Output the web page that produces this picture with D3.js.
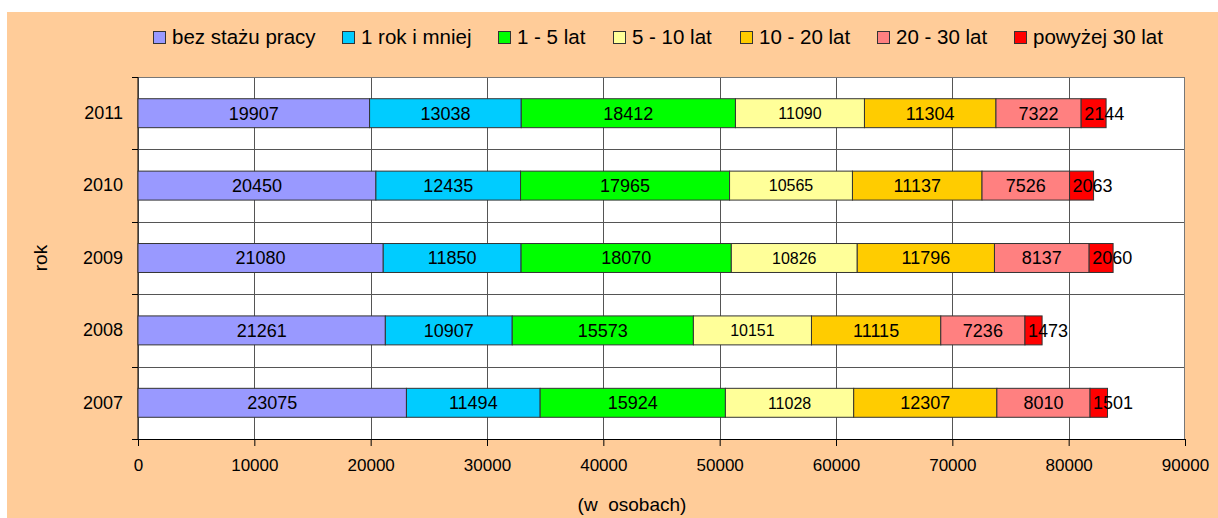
<!DOCTYPE html>
<html><head><meta charset="utf-8">
<script src="https://cdn.jsdelivr.net/npm/d3@7"></script>
<style>
html,body{margin:0;padding:0;background:#fff;}
svg{display:block;font-family:"Liberation Sans",Arial,sans-serif;}
</style></head>
<body><svg id="chart" width="1218" height="518"></svg>
<script>
const years = ["2011","2010","2009","2008","2007"];
const seriesNames = ["bez stażu pracy","1 rok i mniej","1 - 5 lat","5 - 10 lat","10 - 20 lat","20 - 30 lat","powyżej 30 lat"];
const bezStazu   = [19907, 20450, 21080, 21261, 23075];
const rokIMniej  = [13038, 12435, 11850, 10907, 11494];
const lat1_5     = [18412, 17965, 18070, 15573, 15924];
const lat5_10    = [11090, 10565, 10826, 10151, 11028];
const lat10_20   = [11304, 11137, 11796, 11115, 12307];
const lat20_30   = [7322, 7526, 8137, 7236, 8010];
const powyzej30  = [2144, 2063, 2060, 1473, 1501];
const xTicks = [0,10000,20000,30000,40000,50000,60000,70000,80000,90000];
const colors = ["#9999FF","#00CCFF","#00FF00","#FFFF99","#FFCC00","#FF8080","#FF0000"];

const seriesValues = [bezStazu, rokIMniej, lat1_5, lat5_10, lat10_20, lat20_30, powyzej30];
const rows = years.map((y,i)=>{ const o={year:y}; seriesNames.forEach((s,k)=>o[s]=seriesValues[k][i]); return o; });

const svg = d3.select("#chart");
const W=1218,H=518;
const plot = {l:138, r:1185, t:77, b:439};

svg.append("rect").attr("x",0).attr("y",0).attr("width",W).attr("height",H).attr("fill","#fff");
svg.append("rect").attr("x",7).attr("y",12).attr("width",W-7).attr("height",H-12).attr("fill","#FFCC99");
svg.append("rect").attr("x",plot.l).attr("y",plot.t).attr("width",plot.r-plot.l).attr("height",plot.b-plot.t).attr("fill","#fff");

const x = d3.scaleLinear().domain([0,90000]).range([plot.l,plot.r]);
const y = d3.scaleBand().domain(years).range([plot.t,plot.b]).paddingInner(0.6).paddingOuter(0.3);

const gridColor="#555";
svg.append("g").selectAll("line").data(xTicks.slice(1,-1)).join("line")
  .attr("x1",d=>Math.round(x(d))+0.5).attr("x2",d=>Math.round(x(d))+0.5)
  .attr("y1",plot.t).attr("y2",plot.b).attr("stroke",gridColor).attr("stroke-width",1);
const bounds = years.map(yy=>y(yy)-y.step()*y.paddingInner()/2).concat([plot.b]);
svg.append("g").selectAll("line").data(bounds).join("line")
  .attr("x1",plot.l).attr("x2",plot.r)
  .attr("y1",d=>Math.round(d)+0.5).attr("y2",d=>Math.round(d)+0.5)
  .attr("stroke",gridColor).attr("stroke-width",1);
svg.append("g").selectAll("line").data(bounds).join("line")
  .attr("x1",plot.l-6).attr("x2",plot.l)
  .attr("y1",d=>Math.round(d)+0.5).attr("y2",d=>Math.round(d)+0.5)
  .attr("stroke","#000");
svg.append("rect").attr("x",plot.l+0.5).attr("y",plot.t+0.5).attr("width",plot.r-plot.l-1).attr("height",plot.b-plot.t)
  .attr("fill","none").attr("stroke","#777");

const xAxis = d3.axisBottom(x).tickValues(xTicks).tickSize(7).tickPadding(13).tickFormat(d3.format("d"));
const gx = svg.append("g").attr("transform",`translate(0,${plot.b})`).call(xAxis);
gx.select(".domain").attr("stroke","#000");
gx.selectAll(".tick line").attr("stroke","#000");
gx.selectAll("text").attr("font-size",17).attr("fill","#000").attr("font-family","Liberation Sans, Arial, sans-serif");

const yAxis = d3.axisLeft(y).tickSize(0).tickPadding(15);
const gy = svg.append("g").attr("transform",`translate(${plot.l},0)`).call(yAxis);
gy.select(".domain").attr("stroke","#000").attr("d",`M0,${plot.t}V${plot.b}`);
gy.selectAll("text").attr("font-size",18).attr("fill","#000").attr("font-family","Liberation Sans, Arial, sans-serif");

const stack = d3.stack().keys(seriesNames)(rows);
const layers = svg.append("g").selectAll("g").data(stack).join("g").attr("fill",(d,i)=>colors[i]);
layers.selectAll("rect").data(d=>d).join("rect")
  .attr("x",d=>x(d[0])).attr("width",d=>x(d[1])-x(d[0]))
  .attr("y",d=>y(d.data.year)).attr("height",y.bandwidth())
  .attr("stroke","#333").attr("stroke-width",1);

const lg = svg.append("g");
stack.forEach((layer,i)=>{
  layer.forEach(d=>{
    const val = d[1]-d[0];
    const x0 = x(d[0]), x1 = x(d[1]);
    const t = lg.append("text").text(val)
      .attr("font-size", i===3 ? 16 : 18).attr("fill","#000")
      .attr("y", y(d.data.year)+y.bandwidth()/2).attr("dy","0.36em");
    const w = t.node().getComputedTextLength();
    if (w+4 > x1-x0) { t.attr("x", x0+3).attr("text-anchor","start"); }
    else { t.attr("x",(x0+x1)/2).attr("text-anchor","middle"); }
  });
});

svg.append("text").attr("transform",`translate(47,258) rotate(-90)`).attr("text-anchor","middle")
  .attr("font-size",19).attr("fill","#000").text("rok");
svg.append("text").attr("x",632).attr("y",511).attr("text-anchor","middle").attr("font-size",19)
  .attr("fill","#000").style("white-space","pre").text("(w  osobach)");

// legend (layout positions of each entry)
const legendX = [153, 342, 498, 613, 740, 877, 1014];
const leg = svg.append("g");
seriesNames.forEach((s,i)=>{
  const lx = legendX[i];
  leg.append("rect").attr("x",lx+0.5).attr("y",31.5).attr("width",12).attr("height",12)
    .attr("fill",colors[i]).attr("stroke","#333");
  leg.append("text").attr("x",lx+19).attr("y",44).attr("font-size",20.5).attr("fill","#000").text(s);
});
</script></body></html>
